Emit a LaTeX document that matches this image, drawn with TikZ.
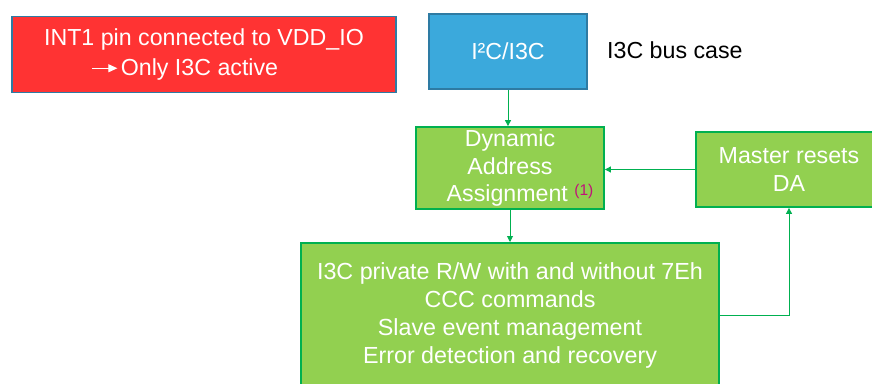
\documentclass[tikz,border=0pt]{standalone}
\usepackage{fontspec}
\setmainfont{Liberation Sans}
\usetikzlibrary{arrows.meta,positioning}

\definecolor{alertred}{HTML}{FF3333}
\definecolor{edgeblue}{HTML}{2E7BA3}
\definecolor{busblue}{HTML}{3BA9DC}
\definecolor{stepgreen}{HTML}{92D050}
\definecolor{linegreen}{HTML}{00B050}
\definecolor{notemagenta}{HTML}{C0127A}

\tikzset{
  box/.style={draw, line width=1.8pt, text=white, align=center,
    font=\fontsize{23.2}{27.5}\selectfont, inner sep=0pt},
  redbox/.style={box, fill=alertred, draw=edgeblue, font=\fontsize{23.2}{29}\selectfont},
  bluebox/.style={box, fill=busblue, draw=edgeblue},
  greenbox/.style={box, fill=stepgreen, draw=linegreen},
  flow/.style={draw=linegreen, line width=0.9pt, -{Triangle[width=6pt,length=6pt]}}
}
\newcommand{\onlyarrow}{\tikz[baseline=-0.55ex]\draw[white, line width=1pt,
  -{Triangle[width=8pt,length=9pt]}] (0pt,0pt) -- (25pt,0pt);}

\begin{document}
\begin{tikzpicture}[x=1pt,y=-1pt]
\useasboundingbox (0,0) rectangle (872,383);
\clip (0,0) rectangle (872,383);

\draw[alertred, line width=0.8pt] (12,92.5) -- (43,92.5);
\node[redbox, minimum width=384pt, minimum height=76pt] (mode) at (204,54.5)
  {INT1 pin connected to VDD\_IO\\\onlyarrow\kern3pt Only I3C active\hspace*{38pt}};
\node[bluebox, minimum width=158pt, minimum height=75pt] (bus) at (508,51.5) {I²C/I3C};
\node[font=\fontsize{23.2}{26}\selectfont, anchor=west, inner sep=0pt] (case) at (607,50) {I3C bus case};

\node[greenbox, minimum width=188pt, minimum height=82pt] (daa) at (510,168)
  {Dynamic\\Address\\\hspace*{20pt}Assignment \raisebox{6pt}{\textcolor{notemagenta}{\fontsize{15.5}{15}\selectfont(1)}}};
\node[greenbox, minimum width=186pt, minimum height=75pt] (reset) at (789,169.5)
  {Master resets\\DA};
\node[greenbox, minimum width=418pt, anchor=north, inner ysep=20pt,
      font=\fontsize{23.3}{28}\selectfont] (main) at (510,242)
  {I3C private R/W with and without 7Eh\\CCC commands\\Slave event management\\Error detection and recovery};

\draw[flow] (bus.south) -- (bus.south |- daa.north);
\draw[flow] (reset.west) -- (reset.west -| daa.east);
\draw[flow] (daa.south) -- (main.north);
\draw[flow] (main.east) -| (reset.south);
\end{tikzpicture}
\end{document}
